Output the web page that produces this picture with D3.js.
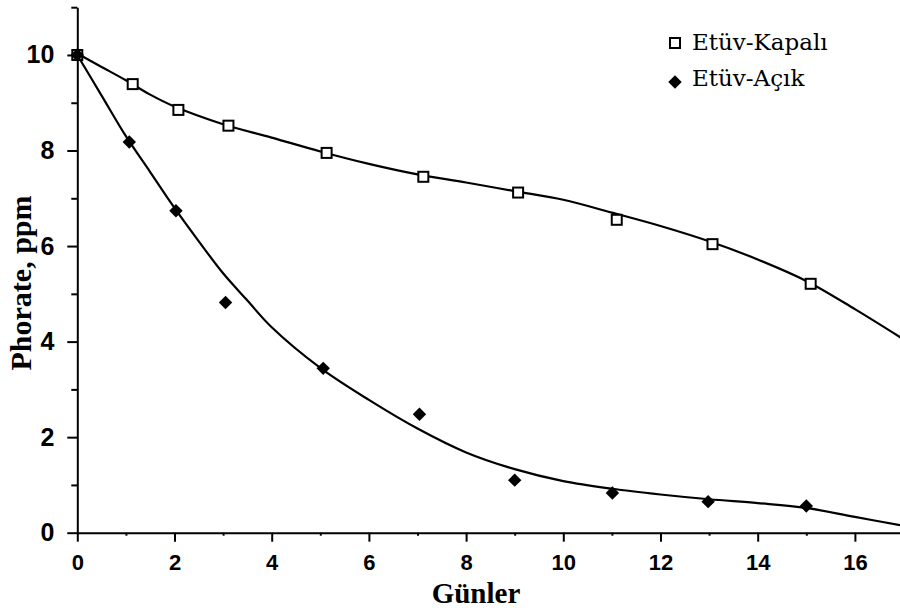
<!DOCTYPE html>
<html>
<head>
<meta charset="utf-8">
<script src="https://cdn.jsdelivr.net/npm/d3@7"></script>
<style>
  body { margin: 0; background: #fff; }
  .tick text { font-family: "Liberation Sans", Arial, sans-serif; font-weight: bold; }
  .axis path, .axis line { stroke: #000; stroke-width: 2px; }
  .fit-line { fill: none; stroke: #000; stroke-width: 2.2px; }
</style>
</head>
<body>
<svg id="chart"></svg>
<script>
// measured points
const kapaliX = [0, 1.14, 2.08, 3.11, 5.13, 7.12, 9.07, 11.1, 13.07, 15.09];
const kapaliY = [10.0, 9.39, 8.85, 8.52, 7.95, 7.45, 7.12, 6.55, 6.04, 5.21];
const acikX = [0, 1.07, 2.03, 3.05, 5.06, 7.04, 9.0, 11.01, 12.98, 15.0];
const acikY = [10.0, 8.18, 6.74, 4.82, 3.44, 2.48, 1.10, 0.83, 0.65, 0.56];

// fitted curves
const kapaliFitX = [0, 0.5, 1, 1.5, 2, 3, 4, 5, 6, 7, 8, 9, 10, 11, 12, 13, 14, 15, 16, 16.95];
const kapaliFitY = [10.03, 9.75, 9.47, 9.17, 8.92, 8.55, 8.27, 7.98, 7.72, 7.5, 7.33, 7.15, 6.97, 6.7, 6.42, 6.1, 5.72, 5.27, 4.68, 4.08];
const acikFitX = [0, 0.5, 1, 1.5, 2, 2.5, 3, 3.5, 4, 5, 6, 7, 8, 9, 10, 11, 12, 13, 14, 15, 16, 16.93];
const acikFitY = [10.0, 9.15, 8.3, 7.55, 6.8, 6.1, 5.43, 4.86, 4.3, 3.45, 2.78, 2.18, 1.68, 1.33, 1.08, 0.92, 0.8, 0.7, 0.62, 0.52, 0.33, 0.16];

const xMajor = [0, 2, 4, 6, 8, 10, 12, 14, 16];
const xMinor = [1, 3, 5, 7, 9, 11, 13, 15, 17];
const yMajor = [0, 2, 4, 6, 8, 10];
const yMinor = [1, 3, 5, 7, 9, 11];

const legendLabels = ["Etüv-Kapalı", "Etüv-Açık"];
const xTitle = "Günler";
const yTitle = "Phorate, ppm";

const width = 900, height = 614;

let svg = d3.select("#chart")
    .attr("width", width)
    .attr("height", height);

let xScale = d3.scaleLinear()
    .domain([0, 17])
    .range([77.3, 903.5]);

let yScale = d3.scaleLinear()
    .domain([0, 11])
    .range([532.7, 7.2]);

// axes: minor ticks first, then major with labels
let xAxisG = svg.append("g")
    .attr("class", "axis x-axis")
    .attr("transform", `translate(0,${yScale(0)})`);
xAxisG.append("g")
    .call(d3.axisBottom(xScale).tickValues(xMinor).tickSize(3).tickFormat(""))
    .call(g => g.select(".domain").remove());
xAxisG.append("g")
    .call(d3.axisBottom(xScale).tickValues(xMajor).tickSize(9).tickSizeOuter(0).tickPadding(13))
    .call(g => g.selectAll(".tick text").style("font-size", "22px").attr("fill", "#000"));

let yAxisG = svg.append("g")
    .attr("class", "axis y-axis")
    .attr("transform", `translate(${xScale(0)},0)`);
yAxisG.append("g")
    .call(d3.axisLeft(yScale).tickValues(yMinor).tickSize(6).tickFormat(""))
    .call(g => g.select(".domain").remove());
yAxisG.append("g")
    .call(d3.axisLeft(yScale).tickValues(yMajor).tickSize(10).tickSizeOuter(0).tickPadding(13))
    .call(g => g.selectAll(".tick text").style("font-size", "25px").attr("fill", "#000"));

// fit curves
let line = d3.line()
    .x(d => xScale(d[0]))
    .y(d => yScale(d[1]))
    .curve(d3.curveCatmullRom);

svg.append("path")
    .datum(d3.zip(kapaliFitX, kapaliFitY))
    .attr("class", "fit-line")
    .attr("d", line);

svg.append("path")
    .datum(d3.zip(acikFitX, acikFitY))
    .attr("class", "fit-line")
    .attr("d", line);

// markers
svg.selectAll(".sq")
    .data(d3.zip(kapaliX, kapaliY))
    .join("rect")
    .attr("class", "sq")
    .attr("x", d => xScale(d[0]) - 5)
    .attr("y", d => yScale(d[1]) - 5)
    .attr("width", 10)
    .attr("height", 10)
    .attr("fill", "#fff")
    .attr("stroke", "#000")
    .attr("stroke-width", 2);

let diamond = d3.symbol().type(d3.symbolDiamond2).size(115);
svg.selectAll(".dm")
    .data(d3.zip(acikX, acikY))
    .join("path")
    .attr("class", "dm")
    .attr("transform", d => `translate(${xScale(d[0])},${yScale(d[1])})`)
    .attr("d", diamond)
    .attr("fill", "#000");

// axis titles
svg.append("text")
    .attr("x", 476)
    .attr("y", 603)
    .attr("text-anchor", "middle")
    .style("font-family", "'Liberation Serif', 'Times New Roman', serif")
    .style("font-weight", "bold")
    .style("font-size", "29px")
    .text(xTitle);

svg.append("text")
    .attr("transform", "translate(31,283) rotate(-90)")
    .attr("text-anchor", "middle")
    .style("font-family", "'Liberation Serif', 'Times New Roman', serif")
    .style("font-weight", "bold")
    .style("font-size", "30px")
    .text(yTitle);

// legend
let legend = svg.append("g").attr("transform", "translate(675,0)");
legend.append("rect")
    .attr("x", -5).attr("y", 38)
    .attr("width", 10).attr("height", 10)
    .attr("fill", "#fff").attr("stroke", "#000").attr("stroke-width", 2);
legend.append("path")
    .attr("transform", "translate(0,82)")
    .attr("d", diamond)
    .attr("fill", "#000");
legend.selectAll("text")
    .data(legendLabels)
    .join("text")
    .attr("x", 17)
    .attr("y", (d, i) => 50 + i * 36)
    .style("font-family", "'DejaVu Serif', serif")
    .style("font-size", "23px")
    .text(d => d);
</script>
</body>
</html>
